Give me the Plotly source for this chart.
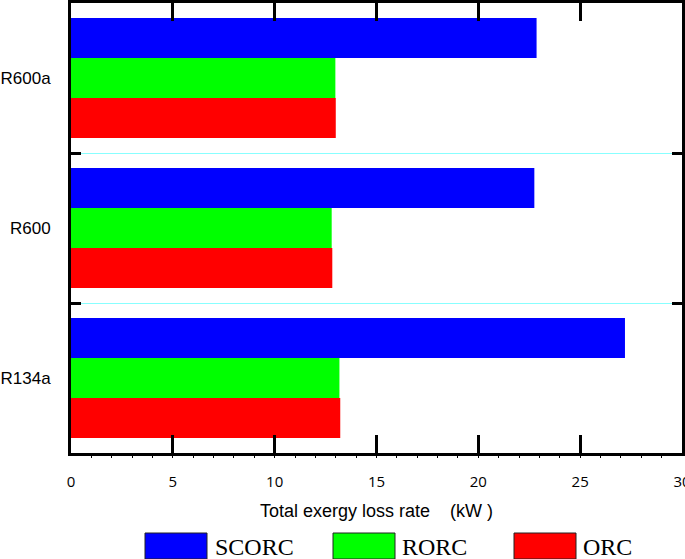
import plotly.graph_objects as go

# ---- data ----
refrigerants = ["R134a", "R600", "R600a"]
series_names = ["ORC", "RORC", "SCORC"]
orc_values = [13.22, 12.83, 13.0]
rorc_values = [13.18, 12.80, 12.98]
scorc_values = [27.2, 22.75, 22.86]
colors = {"ORC": "#FF0000", "RORC": "#00FF00", "SCORC": "#0000FF"}
x_ticks = [0, 5, 10, 15, 20, 25, 30]

W, H = 685, 559
L, R, T, B = 71, 3, 3, 106
PW, PH = W - L - R, H - T - B

def px2paper(px, py):
    return (px - L) / PW, (H - B - py) / PH

fig = go.Figure()
for name, vals in zip(series_names, [orc_values, rorc_values, scorc_values]):
    fig.add_trace(go.Bar(
        y=refrigerants, x=vals, name=name, orientation="h",
        marker=dict(color=colors[name], line=dict(width=0)),
        showlegend=False,
    ))

# manual legend (large boxes as in reference)
legend_items = [("SCORC", 145, 207, 213), ("RORC", 333, 395, 400), ("ORC", 514, 576, 581)]
shapes = []
annotations = []
for name, x0, x1, xt in legend_items:
    ax0, ay0 = px2paper(x0, 559)
    ax1, ay1 = px2paper(x1, 533)
    shapes.append(dict(type="rect", xref="paper", yref="paper", x0=ax0, x1=ax1, y0=ay0, y1=ay1,
                       fillcolor=colors[name], line=dict(color="#222222", width=1)))
    tx, ty = px2paper(xt, 547)
    annotations.append(dict(xref="paper", yref="paper", x=tx, y=ty, text=name, showarrow=False,
                            xanchor="left", yanchor="middle",
                            font=dict(family="Liberation Serif, Times New Roman, serif", size=24, color="black")))

fig.update_layout(
    width=W, height=H,
    margin=dict(l=L, r=R, t=T, b=B, autoexpand=False),
    paper_bgcolor="white", plot_bgcolor="white",
    barmode="group", bargap=0.2, bargroupgap=0,
    shapes=shapes, annotations=annotations,
    xaxis=dict(
        range=[0, 30], tickmode="array", tickvals=x_ticks, ticktext=[str(v) for v in x_ticks],
        ticks="inside", ticklen=18, tickwidth=3, tickcolor="black",
        showline=True, linewidth=3, linecolor="black", mirror="allticks",
        showgrid=False, zeroline=False,
        minor=dict(dtick=1, ticks="outside", ticklen=2, tickwidth=1, tickcolor="black", showgrid=False),
        tickfont=dict(family="Open Sans, sans-serif", size=15, color="black"),
        ticklabelstandoff=13, ticklabeloverflow="allow",
        title=dict(text="Total exergy loss rate\u00a0\u00a0\u00a0\u00a0(kW\u00a0)",
                   font=dict(family="Liberation Sans, Arial, sans-serif", size=18, color="black"),
                   standoff=15),
        automargin=False,
    ),
    yaxis=dict(
        type="category", categoryorder="array", categoryarray=refrigerants,
        range=[-0.5, 2.5], tickson="boundaries",
        ticks="inside", ticklen=10, tickwidth=3, tickcolor="black",
        showline=True, linewidth=3, linecolor="black", mirror="allticks",
        showgrid=True, gridcolor="#88FFFF", gridwidth=1, zeroline=False,
        tickfont=dict(family="Liberation Sans, Arial, sans-serif", size=17, color="black"),
        ticklabelstandoff=14, ticklabeloverflow="allow",
        automargin=False,
    ),
)

fig.write_html("out.html", config={"displayModeBar": False},
               post_script="document.body.style.margin='0px';document.body.style.overflow='hidden';")
